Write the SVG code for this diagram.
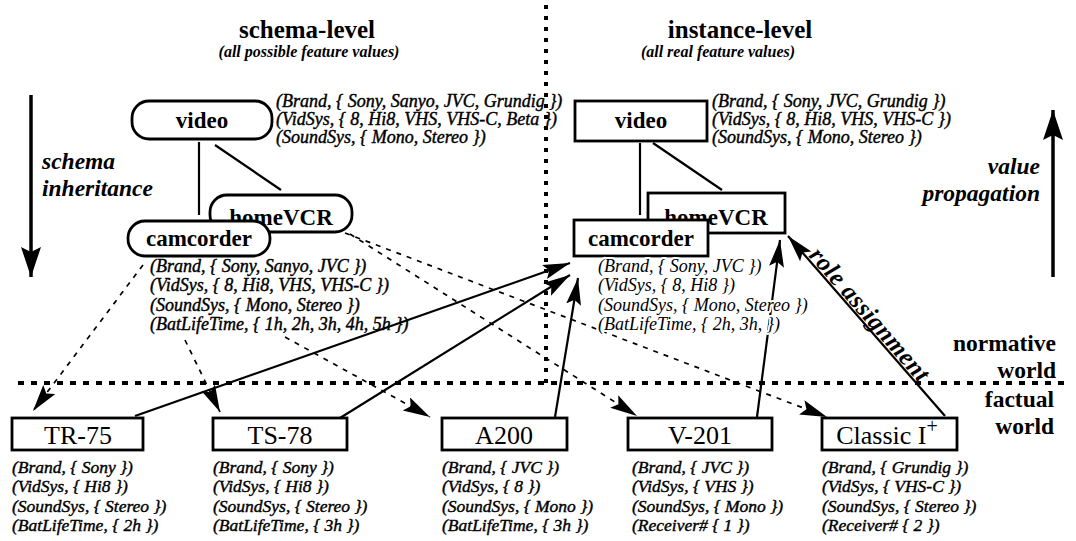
<svg xmlns="http://www.w3.org/2000/svg" width="1076" height="541" viewBox="0 0 1076 541">
<style>
.t{font-family:"Liberation Serif",serif;font-style:italic;font-size:18px;fill:#000;stroke:#000;stroke-width:0.4}
.tb{font-family:"Liberation Serif",serif;font-style:italic;font-size:17.5px;fill:#000;stroke:#000;stroke-width:0.4}
.th{font-family:"Liberation Serif",serif;font-style:italic;font-size:18px;fill:#000;stroke:#fff;stroke-width:4;stroke-linejoin:round;paint-order:stroke}
.lbl{font-family:"Liberation Serif",serif;font-weight:bold;font-size:23px;text-anchor:middle}
.big{font-family:"Liberation Serif",serif;font-size:26px;text-anchor:middle}
.side{font-family:"Liberation Serif",serif;font-weight:bold;font-style:italic;font-size:23.5px}
.role{font-family:"Liberation Serif",serif;font-weight:bold;font-style:italic;font-size:25px}
.title{font-family:"Liberation Serif",serif;font-weight:bold;font-size:25px;text-anchor:middle}
.sub{font-family:"Liberation Serif",serif;font-weight:bold;font-style:italic;font-size:16px;text-anchor:middle}
.world{font-family:"Liberation Serif",serif;font-weight:bold;font-size:23.5px;text-anchor:end}
.box{fill:#fff;stroke:#000;stroke-width:2.8}
.edge{stroke:#000;stroke-width:2.2;fill:none}
.dash{stroke:#000;stroke-width:1.7;fill:none;stroke-dasharray:5 6}
.solid{stroke:#000;stroke-width:2.2;fill:none}
.dot{stroke:#000;stroke-width:4;fill:none}
</style>
<defs>
<marker id="ah" markerUnits="userSpaceOnUse" markerWidth="30" markerHeight="16" refX="27" refY="7.5" orient="auto"><path d="M0,0 L27,7.5 L0,15 L5,7.5 z" fill="#000"/></marker>
<marker id="bh" markerUnits="userSpaceOnUse" markerWidth="32" markerHeight="22" refX="30" refY="10" orient="auto"><path d="M0,0 L30,10 L0,20 L5,10 z" fill="#000"/></marker>
</defs>
<rect width="1076" height="541" fill="#fff"/>

<g id="titles">
<text class="title" x="307" y="38">schema-level</text>
<text class="sub" x="309" y="57">(all possible feature values)</text>
<text class="title" x="740" y="38">instance-level</text>
<text class="sub" x="718" y="57">(all real feature values)</text>
</g>

<g id="dividers">
<line class="dot" x1="546" y1="5" x2="546" y2="383" stroke-dasharray="4 7"/>
<line class="dot" x1="18" y1="383" x2="1070" y2="383" stroke-dasharray="6 7"/>
</g>

<g id="side-labels">
<line x1="31" y1="95" x2="31" y2="277" stroke="#000" stroke-width="3.5" marker-end="url(#bh)"/>
<text class="side" x="42" y="169">schema</text>
<text class="side" x="42" y="196">inheritance</text>
<line x1="1053" y1="277" x2="1053" y2="110" stroke="#000" stroke-width="3.5" marker-end="url(#bh)"/>
<text class="side" x="1040" y="174" text-anchor="end">value</text>
<text class="side" x="1040" y="201" text-anchor="end">propagation</text>
<text class="world" x="1056" y="351">normative</text>
<text class="world" x="1056" y="378">world</text>
<text class="world" x="1054" y="407">factual</text>
<text class="world" x="1054" y="434">world</text>
</g>

<g id="connectors">
<line class="edge" x1="199" y1="142" x2="199" y2="215"/>
<line class="edge" x1="215" y1="145" x2="281" y2="190"/>
<line class="edge" x1="640" y1="143" x2="640" y2="215"/>
<line class="edge" x1="653" y1="143" x2="722" y2="190"/>
<line class="dash" x1="143" y1="265" x2="33" y2="411" marker-end="url(#ah)"/>
<line class="dash" x1="185" y1="340" x2="220" y2="412" marker-end="url(#ah)"/>
<line class="dash" x1="285" y1="337" x2="430" y2="417" marker-end="url(#ah)"/>
<line class="dash" x1="350" y1="234" x2="637" y2="416" marker-end="url(#ah)"/>
<line class="dash" x1="345" y1="233" x2="827" y2="417" marker-end="url(#ah)"/>
<line class="solid" x1="135" y1="416" x2="570" y2="263" marker-end="url(#ah)"/>
<line class="solid" x1="340" y1="418" x2="570" y2="275" marker-end="url(#ah)"/>
<line class="solid" x1="555" y1="417" x2="578" y2="278" marker-end="url(#ah)"/>
<line class="solid" x1="757" y1="417" x2="780" y2="240" marker-end="url(#ah)"/>
<line class="solid" x1="945" y1="416" x2="788" y2="236" marker-end="url(#ah)"/>
<text class="role" transform="translate(808,256) rotate(48.9)" letter-spacing="0.4">role assignment</text>
</g>

<g id="schema-video">
<rect class="box" x="132" y="101" width="140" height="38" rx="17"/>
<text class="lbl" x="202" y="128">video</text>
<text class="t" x="276" y="107">(Brand, { Sony, Sanyo, JVC, Grundig })</text>
<text class="t" x="276" y="125">(VidSys, { 8, Hi8, VHS, VHS-C, Beta })</text>
<text class="t" x="276" y="143">(SoundSys, { Mono, Stereo })</text>
</g>
<g id="schema-homeVCR">
<rect class="box" x="210" y="195" width="142" height="37" rx="17"/>
<text class="lbl" x="281" y="225">homeVCR</text>
</g>
<g id="schema-camcorder">
<rect class="box" x="128" y="221" width="142" height="35" rx="17"/>
<text class="lbl" x="199" y="246">camcorder</text>
<text class="t" x="150" y="272">(Brand, { Sony, Sanyo, JVC })</text>
<text class="t" x="150" y="291">(VidSys, { 8, Hi8, VHS, VHS-C })</text>
<text class="t" x="150" y="311">(SoundSys, { Mono, Stereo })</text>
<text class="t" x="150" y="330">(BatLifeTime, { 1h, 2h, 3h, 4h, 5h })</text>
</g>

<g id="instance-video">
<rect class="box" x="575" y="101" width="132" height="40"/>
<text class="lbl" x="641" y="128">video</text>
<text class="t" x="712" y="107">(Brand, { Sony, JVC, Grundig })</text>
<text class="t" x="712" y="125">(VidSys, { 8, Hi8, VHS, VHS-C })</text>
<text class="t" x="712" y="143">(SoundSys, { Mono, Stereo })</text>
</g>
<g id="instance-homeVCR">
<rect class="box" x="648" y="193" width="137" height="40"/>
<text class="lbl" x="716" y="225">homeVCR</text>
</g>
<g id="instance-camcorder">
<rect class="box" x="574" y="220" width="134" height="36"/>
<text class="lbl" x="641" y="246">camcorder</text>
<text class="th" x="598" y="272">(Brand, { Sony, JVC })</text>
<text class="th" x="598" y="291">(VidSys, { 8, Hi8 })</text>
<text class="th" x="598" y="311">(SoundSys, { Mono, Stereo })</text>
<text class="th" x="598" y="330">(BatLifeTime, { 2h, 3h, })</text>
</g>

<g id="TR-75">
<rect class="box" x="12" y="418" width="131" height="32"/>
<text class="big" x="78" y="444">TR-75</text>
<text class="tb" x="12" y="473">(Brand, { Sony })</text>
<text class="tb" x="12" y="492">(VidSys, { Hi8 })</text>
<text class="tb" x="12" y="512">(SoundSys, { Stereo })</text>
<text class="tb" x="12" y="531">(BatLifeTime, { 2h })</text>
</g>
<g id="TS-78">
<rect class="box" x="213" y="418" width="134" height="32"/>
<text class="big" x="280" y="444">TS-78</text>
<text class="tb" x="213" y="473">(Brand, { Sony })</text>
<text class="tb" x="213" y="492">(VidSys, { Hi8 })</text>
<text class="tb" x="213" y="512">(SoundSys, { Stereo })</text>
<text class="tb" x="213" y="531">(BatLifeTime, { 3h })</text>
</g>
<g id="A200">
<rect class="box" x="442" y="418" width="125" height="32"/>
<text class="big" x="504" y="444">A200</text>
<text class="tb" x="442" y="473">(Brand, { JVC })</text>
<text class="tb" x="442" y="492">(VidSys, { 8 })</text>
<text class="tb" x="442" y="512">(SoundSys, { Mono })</text>
<text class="tb" x="442" y="531">(BatLifeTime, { 3h })</text>
</g>
<g id="V-201">
<rect class="box" x="628" y="418" width="144" height="32"/>
<text class="big" x="700" y="444">V-201</text>
<text class="tb" x="632" y="473">(Brand, { JVC })</text>
<text class="tb" x="632" y="492">(VidSys, { VHS })</text>
<text class="tb" x="632" y="512">(SoundSys, { Mono })</text>
<text class="tb" x="632" y="531">(Receiver# { 1 })</text>
</g>
<g id="ClassicIplus">
<rect class="box" x="822" y="418" width="135" height="32"/>
<text class="big" x="887" y="444">Classic I<tspan font-size="20" dy="-11">+</tspan></text>
<text class="tb" x="822" y="473">(Brand, { Grundig })</text>
<text class="tb" x="822" y="492">(VidSys, { VHS-C })</text>
<text class="tb" x="822" y="512">(SoundSys, { Stereo })</text>
<text class="tb" x="822" y="531">(Receiver# { 2 })</text>
</g>
</svg>
